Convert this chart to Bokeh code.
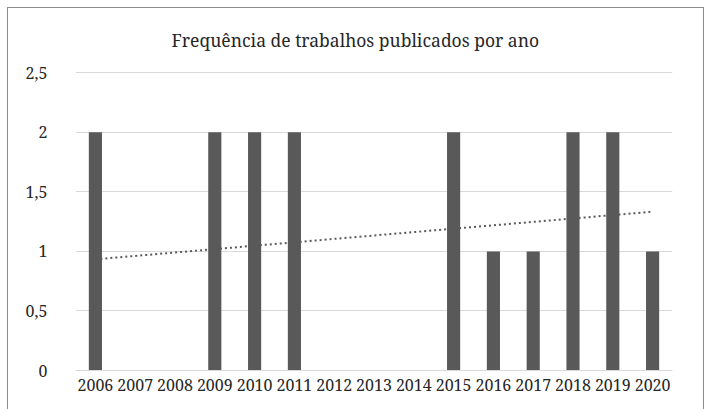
import numpy as np
from bokeh.plotting import figure
from bokeh.models import ColumnDataSource, FixedTicker
from bokeh.embed import file_html
from bokeh.resources import INLINE

years = ["2006", "2007", "2008", "2009", "2010", "2011", "2012", "2013",
         "2014", "2015", "2016", "2017", "2018", "2019", "2020"]
counts = [2, 0, 0, 2, 2, 2, 0, 0, 0, 2, 1, 1, 2, 2, 1]
y_ticks = [0, 0.5, 1, 1.5, 2, 2.5]
y_tick_labels = ["0", "0,5", "1", "1,5", "2", "2,5"]
title_text = "Frequência de trabalhos publicados por ano"

FONT = "Noto Serif"
TXT = "#262626"
BORDER = "#8c8c8c"

p = figure(x_range=years, y_range=(0, 2.51), width=712, height=409,
           output_backend="svg", toolbar_location=None,
           min_border_left=75, min_border_right=40, min_border_top=71,
           min_border_bottom=39, title=title_text)
g = f"linear-gradient({BORDER},{BORDER})"
p.styles = {"background": (f"{g} 7px 7px / 1px 100% no-repeat, "
                           f"{g} 7px 7px / 697px 1px no-repeat, "
                           f"{g} 703px 7px / 1px 100% no-repeat, white")}
p.border_fill_color = None
p.background_fill_color = "white"
p.x_range.range_padding = 0
p.outline_line_color = None

p.title.align = "left"
p.title.offset = 96
p.title.text_font = FONT
p.title.text_font_size = "17.5px"
p.title.text_font_style = "normal"
p.title.text_color = TXT
p.title.standoff = 39

src = ColumnDataSource(dict(year=years, count=counts))
p.vbar(x="year", top="count", width=0.33, source=src,
       fill_color="#595959", line_color=None)

# linear trend line computed from data
idx = np.arange(1, len(counts) + 1)
slope, intercept = np.polyfit(idx, counts, 1)
trend_y = [slope * idx[0] + intercept, slope * idx[-1] + intercept]
p.line(x=[years[0], years[-1]], y=trend_y, line_color="#595959",
       line_width=2, line_dash="2 3")

p.yaxis.ticker = FixedTicker(ticks=y_ticks)
p.yaxis.major_label_overrides = {t: l for t, l in zip(y_ticks, y_tick_labels)}
p.yaxis.axis_line_color = None
p.yaxis.major_tick_line_color = None
p.yaxis.minor_tick_line_color = None
p.yaxis.major_label_standoff = 22
p.xaxis.axis_line_color = "#d9d9d9"
p.xaxis.major_tick_line_color = None
p.xaxis.minor_tick_line_color = None
p.xaxis.major_label_standoff = 2
for ax in (p.xaxis, p.yaxis):
    ax.major_label_text_font = FONT
    ax.major_label_text_font_size = "16px"
    ax.major_label_text_color = TXT

p.xgrid.grid_line_color = None
p.ygrid.grid_line_color = "#d9d9d9"
p.ygrid.ticker = FixedTicker(ticks=y_ticks)

open("out.html", "w").write(file_html(p, INLINE))
